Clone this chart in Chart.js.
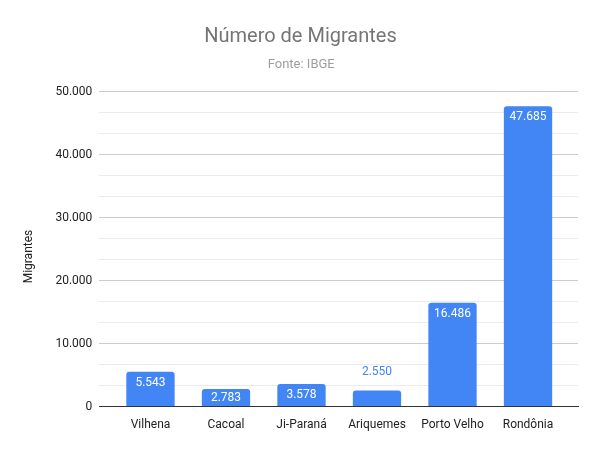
<!DOCTYPE html>
<html lang="pt">
<head>
  <meta charset="UTF-8" />
  <title>Número de Migrantes</title>
  <style>
    html, body { margin: 0; padding: 0; background: #fff; overflow: hidden; }
  </style>
</head>
<body>
  <canvas id="migChart" width="600" height="449"></canvas>
  <script src="https://cdn.jsdelivr.net/npm/chart.js"></script>
  <script>
    const cities = ["Vilhena", "Cacoal", "Ji-Paraná", "Ariquemes", "Porto Velho", "Rondônia"];
    const migrants = [5543, 2783, 3578, 2550, 16486, 47685];
    const yMax = 50000;

    const fmt = v => v.toLocaleString("pt-BR");

    // value labels: inside the bar top, above it when the bar is too short
    const barLabels = {
      id: "barLabels",
      afterDatasetsDraw(chart) {
        const ctx = chart.ctx;
        const meta = chart.getDatasetMeta(0);
        ctx.save();
        ctx.font = "12px Roboto, Arial, sans-serif";
        ctx.textAlign = "center";
        ctx.textBaseline = "middle";
        meta.data.forEach((bar, i) => {
          const h = bar.base - bar.y;
          if (h >= 17) {
            ctx.fillStyle = "#ffffff";
            ctx.fillText(fmt(migrants[i]), bar.x, Math.min(bar.y + 11, bar.y + h / 2));
          } else {
            ctx.fillStyle = "#4285f4";
            ctx.fillText(fmt(migrants[i]), bar.x, bar.y - 19);
          }
        });
        ctx.restore();
      }
    };

    new Chart(document.getElementById("migChart"), {
      type: "bar",
      data: {
        datasets: [{
          label: "Migrantes",
          data: migrants.map((v, i) => ({ x: i, y: v })),
          backgroundColor: "#4285f4",
          borderRadius: { topLeft: 3, topRight: 3 },
          borderSkipped: "bottom",
          categoryPercentage: 1,
          barPercentage: 0.64
        }]
      },
      options: {
        responsive: false,
        animation: false,
        devicePixelRatio: 1,
        layout: { padding: { left: 18, right: 22, top: 6, bottom: 14 } },
        plugins: {
          legend: { display: false },
          tooltip: { enabled: false },
          title: {
            display: true,
            text: " Número de Migrantes",
            color: "#757575",
            font: { family: "Roboto, Arial, sans-serif", size: 20, weight: "normal" },
            padding: { top: 19, bottom: 6 }
          },
          subtitle: {
            display: true,
            text: "  Fonte: IBGE",
            color: "#9e9e9e",
            font: { family: "Roboto, Arial, sans-serif", size: 13, weight: "normal" },
            padding: { top: 2, bottom: 19 }
          }
        },
        scales: {
          x: {
            type: "linear",
            offset: false,
            min: -0.678,
            max: 5.662,
            afterBuildTicks(axis) {
              axis.ticks = cities.map((c, i) => ({ value: i }));
            },
            grid: { display: false },
            border: { color: "#333333", width: 1 },
            ticks: {
              color: "#222222",
              font: { family: "Roboto, Arial, sans-serif", size: 12 },
              padding: 3,
              maxRotation: 0,
              autoSkip: false,
              callback: v => cities[Math.round(v)]
            }
          },
          y: {
            min: 0,
            max: yMax,
            afterBuildTicks(axis) {
              const t = [];
              for (let i = 0; i <= 15; i++) t.push({ value: i * 10000 / 3 });
              axis.ticks = t;
            },
            border: { display: false },
            grid: {
              drawTicks: false,
              color: c => {
                const v = Math.round(c.tick.value);
                if (v === 0) return "#333333";
                return v % 10000 === 0 ? "#cccccc" : "#ebebeb";
              }
            },
            ticks: {
              color: "#222222",
              font: { family: "Roboto, Arial, sans-serif", size: 12 },
              padding: 7,
              autoSkip: false,
              callback: v => {
                const r = Math.round(v);
                return r % 10000 === 0 ? fmt(r) : "";
              }
            },
            title: {
              display: true,
              text: "Migrantes     ",
              color: "#222222",
              font: { family: "Roboto, Arial, sans-serif", size: 12 },
              padding: { top: 4, bottom: 12 }
            }
          }
        }
      },
      plugins: [barLabels]
    });
  </script>
</body>
</html>
